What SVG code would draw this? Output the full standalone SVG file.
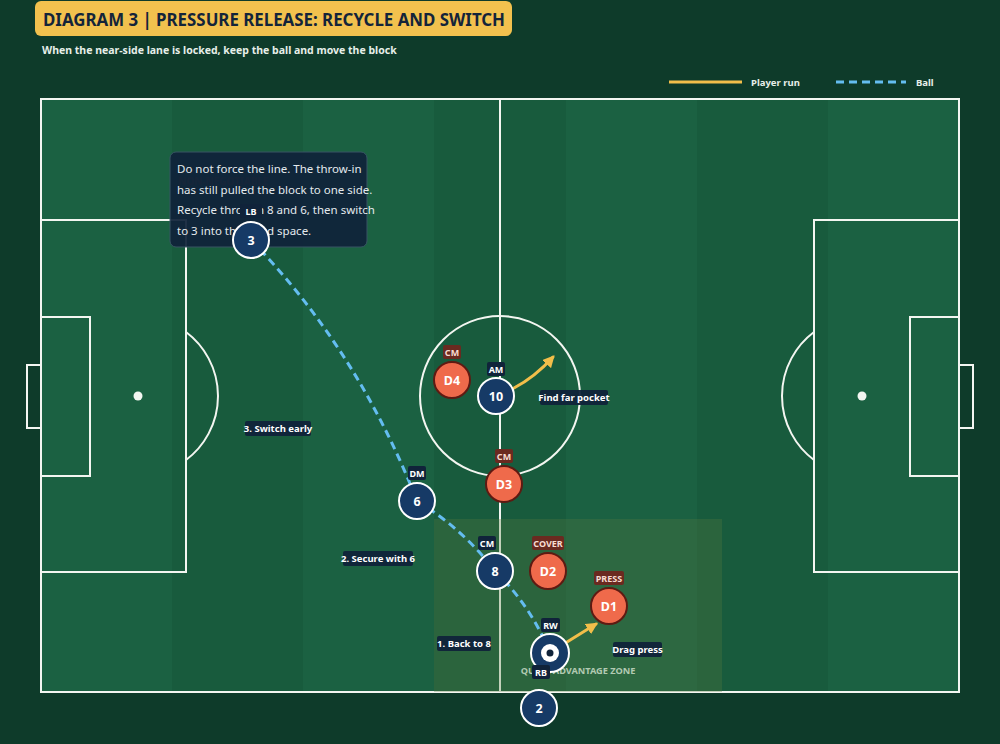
<svg xmlns="http://www.w3.org/2000/svg" width="1000" height="744" viewBox="0 0 1000 744">
<defs>
<style>
.ln{fill:none;stroke:#f3f6f1;stroke-width:2}
.stL{fill:#1b6142}
.stD{fill:#185b3d}
.ply{fill:#163a66;stroke:#ffffff;stroke-width:2}
.def{fill:#ef6a4b;stroke:#5e1a12;stroke-width:2}
.num{font-family:"Noto Sans","Open Sans",sans-serif;font-weight:700;font-size:12.5px;fill:#ffffff;text-anchor:middle}
.tagA{fill:#10233a}
.tagD{fill:#6a2a20}
.tagT{font-family:"Noto Sans","Open Sans",sans-serif;font-weight:700;font-size:9px;fill:#ffffff;text-anchor:middle}
.tagTD{font-family:"Noto Sans","Open Sans",sans-serif;font-weight:700;font-size:9px;fill:#f7dcd2;text-anchor:middle}
.ann{fill:#10233a;opacity:0.95}
.annT{font-family:"Noto Sans","Open Sans",sans-serif;font-weight:700;font-size:9.5px;fill:#ffffff;text-anchor:middle}
.ball{fill:none;stroke:#64bdf0;stroke-width:3;stroke-dasharray:8 5}
.run{fill:none;stroke:#f2be4a;stroke-width:3;stroke-linecap:round}
.note{font-family:"Noto Sans","Open Sans",sans-serif;font-size:11.5px;fill:#e4eaee}
</style>
<marker id="ah" markerUnits="userSpaceOnUse" markerWidth="12" markerHeight="12" viewBox="0 0 10 10" refX="8" refY="5" orient="auto">
<path d="M0,0 L10,5 L0,10 z" fill="#f2be4a"/>
</marker>
</defs>
<rect x="0" y="0" width="1000" height="744" fill="#0e3b2a"/>

<g id="title">
<rect x="35" y="1" width="477" height="35" rx="6" fill="#f2c14e"/>
<text x="43" y="25.5" font-family="Noto Sans,Open Sans,sans-serif" font-weight="700" font-size="18.5" fill="#13243a" textLength="462" lengthAdjust="spacingAndGlyphs">DIAGRAM 3 | PRESSURE RELEASE: RECYCLE AND SWITCH</text>
<text x="42" y="54" font-family="Noto Sans,Open Sans,sans-serif" font-weight="700" font-size="10.5" fill="#e6efe9">When the near-side lane is locked, keep the ball and move the block</text>
</g>

<g id="legend">
<line x1="669" y1="82" x2="742" y2="82" stroke="#f2be4a" stroke-width="3"/>
<text x="751" y="85.5" font-family="Noto Sans,Open Sans,sans-serif" font-weight="700" font-size="9.5" fill="#e6efe9">Player run</text>
<line x1="836" y1="82" x2="906" y2="82" class="ball"/>
<text x="916" y="85.5" font-family="Noto Sans,Open Sans,sans-serif" font-weight="700" font-size="9.5" fill="#e6efe9">Ball</text>
</g>

<g id="pitch">
<rect class="stL" x="41" y="99" width="132" height="593"/>
<rect class="stD" x="172" y="99" width="132" height="593"/>
<rect class="stL" x="303" y="99" width="132" height="593"/>
<rect class="stD" x="434" y="99" width="132" height="593"/>
<rect class="stL" x="566" y="99" width="132" height="593"/>
<rect class="stD" x="697" y="99" width="132" height="593"/>
<rect class="stL" x="828" y="99" width="131" height="593"/>
<rect class="ln" x="41" y="99" width="918" height="593"/>
<line class="ln" x1="500" y1="99" x2="500" y2="692"/>
<circle class="ln" cx="500" cy="396" r="80"/>
<rect class="ln" x="41" y="220" width="145" height="352"/>
<rect class="ln" x="41" y="317" width="49" height="159"/>
<rect x="27" y="365" width="14" height="63" fill="#0e3b2a" stroke="#f3f6f1" stroke-width="2"/>
<circle cx="138" cy="396" r="4.5" fill="#f3f6f1"/>
<path class="ln" d="M186,332 A80,80 0 0 1 186,460"/>
<rect class="ln" x="814" y="220" width="145" height="352"/>
<rect class="ln" x="910" y="317" width="49" height="159"/>
<rect x="959" y="365" width="14" height="63" fill="#0e3b2a" stroke="#f3f6f1" stroke-width="2"/>
<circle cx="862" cy="396" r="4.5" fill="#f3f6f1"/>
<path class="ln" d="M814,332 A80,80 0 0 0 814,460"/>
</g>

<g id="zone">
<rect x="434" y="519" width="288" height="173" fill="#5a7a40" opacity="0.3"/>
<text x="578" y="673.5" font-family="Noto Sans,Open Sans,sans-serif" font-weight="700" font-size="9.2" fill="#c9dcc6" opacity="0.85" text-anchor="middle">QUICK ADVANTAGE ZONE</text>
</g>

<g id="connectors">
<path class="ball" d="M251,240 Q358,350 417,501"/>
<path class="ball" d="M417,501 Q463,529 495,571"/>
<path class="ball" d="M495,571 Q531,606 550,653"/>
<path class="run" d="M514,388 Q535,377 553,357" marker-end="url(#ah)"/>
<path class="run" d="M567,642 Q583,632 596,624" marker-end="url(#ah)"/>
</g>

<g id="note">
<text x="178" y="185" font-family="Noto Sans,Open Sans,sans-serif" font-weight="700" font-size="10" fill="#c03030" opacity="0.5">NON-NEGOTIABLE</text>
<rect x="170" y="152" width="197" height="95" rx="6" fill="#10233a" opacity="0.93" stroke="#3a5566" stroke-width="1"/>
<text class="note" x="177" y="173">Do not force the line. The throw-in</text>
<text class="note" x="177" y="193.5">has still pulled the block to one side.</text>
<text class="note" x="177" y="214">Recycle through 8 and 6, then switch</text>
<text class="note" x="177" y="234.5">to 3 into the freed space.</text>
</g>

<g id="annotations">
<g id="a3"><rect class="ann" x="245" y="421" width="66" height="15" rx="2"/><text class="annT" x="278" y="431.5">3. Switch early</text></g>
<g id="a2"><rect class="ann" x="343" y="551" width="70" height="15" rx="2"/><text class="annT" x="378" y="561.5">2. Secure with 6</text></g>
<g id="a1"><rect class="ann" x="437" y="636" width="54" height="15" rx="2"/><text class="annT" x="464" y="646.5">1. Back to 8</text></g>
<g id="a4"><rect class="ann" x="540" y="390" width="68" height="15" rx="2"/><text class="annT" x="574" y="400.5">Find far pocket</text></g>
<g id="a5"><rect class="ann" x="613" y="642" width="49" height="15" rx="2"/><text class="annT" x="637.5" y="652.5">Drag press</text></g>
</g>

<g id="D4"><rect class="tagD" x="443" y="345" width="18" height="14" rx="2"/><text class="tagTD" x="452" y="355.5">CM</text><circle class="def" cx="452" cy="380" r="18"/><text class="num" x="452" y="384.5">D4</text></g>
<g id="D3"><rect class="tagD" x="495" y="449" width="18" height="14" rx="2"/><text class="tagTD" x="504" y="459.5">CM</text><circle class="def" cx="504" cy="484" r="18"/><text class="num" x="504" y="488.5">D3</text></g>
<g id="D2"><rect class="tagD" x="532" y="536" width="32" height="14" rx="2"/><text class="tagTD" x="548" y="546.5">COVER</text><circle class="def" cx="548" cy="571" r="18"/><text class="num" x="548" y="575.5">D2</text></g>
<g id="D1"><rect class="tagD" x="594" y="571" width="30" height="14" rx="2"/><text class="tagTD" x="609" y="581.5">PRESS</text><circle class="def" cx="609" cy="606" r="18"/><text class="num" x="609" y="610.5">D1</text></g>

<g id="p3"><rect class="tagA" x="240" y="204" width="22" height="14" rx="2"/><text class="tagT" x="251" y="214.5">LB</text><circle class="ply" cx="251" cy="240" r="18"/><text class="num" x="251" y="244.5">3</text></g>
<g id="p10"><rect class="tagA" x="487" y="362" width="18" height="14" rx="2"/><text class="tagT" x="496" y="372.5">AM</text><circle class="ply" cx="496" cy="396" r="18"/><text class="num" x="496" y="400.5">10</text></g>
<g id="p6"><rect class="tagA" x="408" y="466" width="18" height="14" rx="2"/><text class="tagT" x="417" y="476.5">DM</text><circle class="ply" cx="417" cy="501" r="18"/><text class="num" x="417" y="505.5">6</text></g>
<g id="p8"><rect class="tagA" x="478" y="536" width="18" height="14" rx="2"/><text class="tagT" x="487" y="546.5">CM</text><circle class="ply" cx="495" cy="571" r="18"/><text class="num" x="495" y="575.5">8</text></g>
<g id="pRW"><rect class="tagA" x="541" y="618" width="19" height="14" rx="2"/><text class="tagT" x="550.5" y="628.5">RW</text><circle class="ply" cx="550" cy="653" r="19"/><circle cx="550" cy="653" r="9" fill="#ffffff"/><circle cx="550" cy="653" r="3.5" fill="#10233a"/><rect class="tagA" x="532" y="665" width="18" height="14" rx="2"/><text class="tagT" x="541" y="675.5">RB</text></g>
<g id="p2"><circle class="ply" cx="539" cy="708" r="18"/><text class="num" x="539" y="712.5">2</text></g>
</svg>
